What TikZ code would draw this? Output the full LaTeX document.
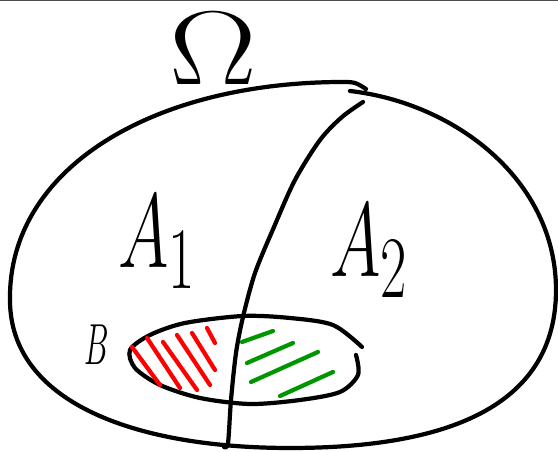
\documentclass[tikz,border=0pt]{standalone}
\usepackage{amsmath,amssymb}
\definecolor{hatchred}{RGB}{255,0,0}
\definecolor{hatchgreen}{RGB}{0,150,0}

\begin{document}
\begin{tikzpicture}[pen/.style={line width=2.4pt,line cap=round,line join=round},
 letter/.style={inner sep=0pt,font=\Huge,xscale=1.57,yscale=2.41}]
\useasboundingbox (0,0) rectangle (11.16,9.04);
\draw[gray!60!black,line width=.6pt] (0,9.03)--(11.16,9.03);
\draw[pen] (7.00,7.22) .. controls (9.10,6.98) and (11.12,5.44) .. (11.12,3.24)
 .. controls (11.12,0.64) and (8.40,0.08) .. (5.80,0.08)
 .. controls (2.60,0.08) and (0.20,1.04) .. (0.20,3.04)
 .. controls (0.16,5.64) and (3.00,7.38) .. (6.80,7.40)
 .. controls (7.10,7.40) .. (7.32,7.26);
\draw[pen] plot[smooth] coordinates {(7.26,7.00) (6.84,6.70) (6.40,6.24) (5.90,5.44) (5.48,4.50)
 (5.10,3.58) (4.86,2.70) (4.72,1.98) (4.62,1.04) (4.56,0.18) (4.48,0.10)};
\draw[pen] plot[smooth] coordinates {(7.12,1.94) (7.16,1.54) (6.80,1.20) (6.00,1.04) (5.00,0.96)
 (4.00,1.08) (3.20,1.34) (2.70,1.68) (2.60,2.04) (3.00,2.34) (3.70,2.58) (4.86,2.72)
 (5.80,2.68) (6.66,2.54) (7.24,2.10)};
\draw[pen,hatchred] (2.64,2.10)--(3.20,1.34);
\draw[pen,hatchred] (2.94,2.28)--(3.60,1.28);
\draw[pen,hatchred] (3.26,2.20)--(3.94,1.24);
\draw[pen,hatchred] (3.54,2.34)--(4.20,1.34);
\draw[pen,hatchred] (3.84,2.38)--(4.30,1.64);
\draw[pen,hatchred] (4.14,2.48)--(4.30,2.18);
\draw[pen,hatchgreen] (4.84,2.20)--(5.46,2.42);
\draw[pen,hatchgreen] (4.94,1.78)--(5.86,2.18);
\draw[pen,hatchgreen] (5.02,1.40)--(6.36,2.00);
\draw[pen,hatchgreen] (5.60,1.12)--(6.66,1.60);
\node[inner sep=0pt,font=\Huge,xscale=3.0,yscale=2.4,anchor=base] (omega) at (4.26,7.34) {$\Omega$};
\node[letter,anchor=base west] (a1) at (2.36,3.68) {$A_1$};
\node[letter,anchor=base west] (a2) at (6.60,3.50) {$A_2$};
\node[letter,xscale=.45,yscale=.55,anchor=base west] (b) at (1.68,1.74) {$B$};
\end{tikzpicture}
\end{document}
